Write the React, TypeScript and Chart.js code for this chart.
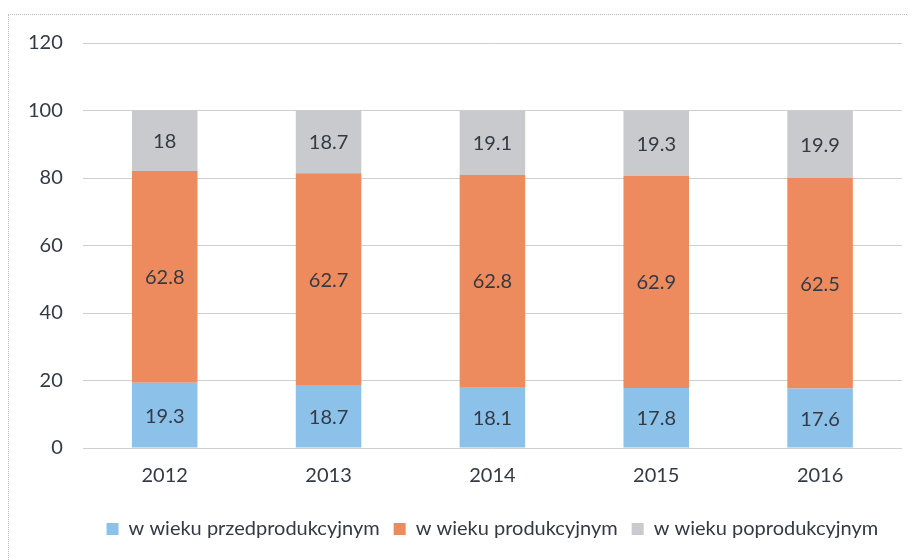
import React, { useEffect, useRef } from "react";
import { Chart, registerables } from "chart.js";

Chart.register(...registerables);

const categories = ["2012", "2013", "2014", "2015", "2016"];
const seriesNames = ["w wieku przedprodukcyjnym", "w wieku produkcyjnym", "w wieku poprodukcyjnym"];
const preProductive = [19.3, 18.7, 18.1, 17.8, 17.6];
const productive = [62.8, 62.7, 62.8, 62.9, 62.5];
const postProductive = [18, 18.7, 19.1, 19.3, 19.9];
const yTicks = [0, 20, 40, 60, 80, 100, 120];

const colors = ["#8cc2ea", "#ee8b5e", "#c9cacd"];
const FONT = "Lato, 'Open Sans', sans-serif";

const labelPlugin = {
  id: "segLabels",
  afterDatasetsDraw(chart: any) {
    const ctx = chart.ctx;
    ctx.save();
    ctx.font = `20px ${FONT}`;
    ctx.fillStyle = "#333a44";
    ctx.textAlign = "center";
    ctx.textBaseline = "middle";
    chart.data.datasets.forEach((ds: any, di: number) => {
      const meta = chart.getDatasetMeta(di);
      meta.data.forEach((bar: any, i: number) => {
        const y = (bar.y + bar.base) / 2;
        ctx.fillText(String(ds.data[i]), bar.x, y + 1);
      });
    });
    ctx.restore();
  },
};

export default function App() {
  const ref = useRef<HTMLCanvasElement>(null);
  useEffect(() => {
    if (!ref.current) return;
    const chart = new Chart(ref.current, {
      type: "bar",
      data: {
        labels: categories,
        datasets: [
          { label: seriesNames[0], data: preProductive, backgroundColor: colors[0] },
          { label: seriesNames[1], data: productive, backgroundColor: colors[1] },
          { label: seriesNames[2], data: postProductive, backgroundColor: colors[2] },
        ],
      },
      options: {
        animation: false,
        responsive: false,
        maintainAspectRatio: false,
        layout: { padding: { left: 0, right: 13, top: 35, bottom: 11 } },
        datasets: { bar: { categoryPercentage: 1, barPercentage: 0.4 } } as any,
        plugins: {
          tooltip: { enabled: false },
          legend: {
            position: "bottom",
            fullSize: false,
            labels: {
              font: { family: FONT, size: 20 },
              color: "#333a44",
              boxWidth: 12,
              boxHeight: 12,
              padding: 14,
            },
          },
        },
        scales: {
          x: {
            stacked: true,
            grid: { display: false },
            border: { display: false },
            ticks: { font: { family: FONT, size: 20 }, color: "#333a44", padding: 8 },
            afterFit: (axis: any) => {
              axis.height += 9;
            },
          },
          y: {
            stacked: true,
            min: 0,
            max: 120,
            afterBuildTicks: (axis: any) => {
              axis.ticks = yTicks.map((v) => ({ value: v }));
            },
            grid: { color: "#cfcfcf", lineWidth: 1, drawTicks: false },
            border: { display: false },
            ticks: { font: { family: FONT, size: 20 }, color: "#333a44", padding: 20 },
          },
        },
      },
      plugins: [labelPlugin],
    });
    return () => chart.destroy();
  }, []);
  return (
    <div style={{ position: "relative", width: 907, height: 552 }}>
      <div
        style={{
          position: "absolute",
          left: 0,
          top: 6,
          width: 903,
          height: 560,
          borderTop: "1px dotted #bbb",
          borderLeft: "1px dotted #bbb",
          borderRight: "1px dotted #bbb",
          boxSizing: "border-box",
        }}
      />
      <canvas ref={ref} width={907} height={552} style={{ position: "absolute", left: 0, top: 0 }} />
    </div>
  );
}
